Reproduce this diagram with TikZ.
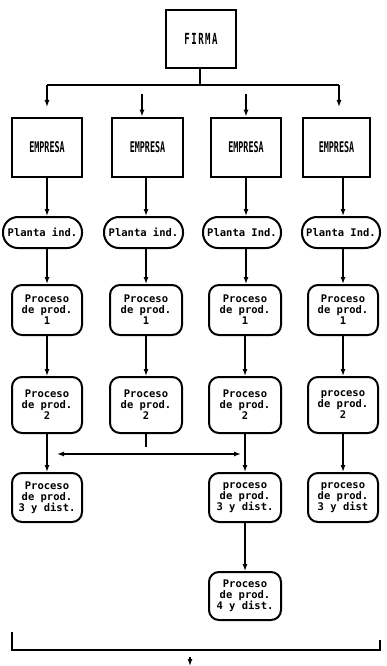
\documentclass[tikz,border=0pt]{standalone}
\usepackage{fontspec}
\usepackage{graphicx}
\newfontfamily\dotfont{DejaVu Sans Mono}
\usetikzlibrary{arrows.meta}
\newcommand{\capsT}[1]{\scalebox{1}[1.75]{\fontsize{8.4}{10}\selectfont #1}}
\begin{document}
\begin{tikzpicture}[x=1pt,y=-1pt,
  sqbox/.style={draw, line width=2.6pt, minimum height=59pt, inner sep=0pt, font=\dotfont\bfseries},
  plant/.style={draw, line width=2pt, rounded corners=15pt, minimum height=31pt, inner sep=0pt, font={\dotfont\bfseries\fontsize{10.5}{11}\selectfont}},
  proc/.style={draw, line width=2pt, rounded corners=10pt, inner sep=0pt, align=center, font={\dotfont\bfseries\fontsize{10.5}{11}\selectfont}},
  arr/.style={line width=1.3pt, -{Latex[length=7pt,width=5pt]}},
  dbl/.style={line width=1.3pt, {Latex[length=7pt,width=5pt]}-{Latex[length=7pt,width=5pt]}},
  ln/.style={line width=1.3pt}]
\useasboundingbox (0,0) rectangle (386,666);

% top
\node[sqbox, minimum width=70pt, minimum height=58pt] (firma) at (201,39) {\scalebox{1}[1.7]{\fontsize{9}{10}\selectfont F\,I\,R\,M\,A}};

\node[sqbox, minimum width=70pt] (e1) at (47,147.5) {\capsT{EMPRESA}};
\node[sqbox, minimum width=71pt] (e2) at (147.5,147.5) {\capsT{EMPRESA}};
\node[sqbox, minimum width=70pt] (e3) at (246,147.5) {\capsT{EMPRESA}};
\node[sqbox, minimum width=67pt] (e4) at (336.5,147.5) {\capsT{EMPRESA}};

\node[plant, minimum width=79pt] (pl1) at (42.5,232.5) {Planta ind.};
\node[plant, minimum width=79pt] (pl2) at (143.5,232.5) {Planta ind.};
\node[plant, minimum width=78pt] (pl3) at (242,232.5) {Planta Ind.};
\node[plant, minimum width=78pt] (pl4) at (341,232.5) {Planta Ind.};

% process 1
\node[proc, minimum width=70pt, minimum height=50pt] (p11) at (47,310) {Proceso\\de prod.\\1};
\node[proc, minimum width=72pt, minimum height=50pt] (p12) at (146,310) {Proceso\\de prod.\\1};
\node[proc, minimum width=72pt, minimum height=50pt] (p13) at (245,310) {Proceso\\de prod.\\1};
\node[proc, minimum width=70pt, minimum height=50pt] (p14) at (343,310) {Proceso\\de prod.\\1};

% process 2
\node[proc, minimum width=70pt, minimum height=56pt] (p21) at (47,405) {Proceso\\de prod.\\2};
\node[proc, minimum width=72pt, minimum height=56pt] (p22) at (146,405) {Proceso\\de prod.\\2};
\node[proc, minimum width=72pt, minimum height=56pt] (p23) at (245,405) {Proceso\\de prod.\\2};
\node[proc, minimum width=70pt, minimum height=56pt] (p24) at (343,405) {proceso\\de prod.\\2};

% process 3
\node[proc, minimum width=70pt, minimum height=49pt] (p31) at (47,497.5) {Proceso\\de prod.\\3 y dist.};
\node[proc, minimum width=72pt, minimum height=49pt] (p33) at (245,497.5) {proceso\\de prod.\\3 y dist.};
\node[proc, minimum width=70pt, minimum height=49pt] (p34) at (343,497.5) {proceso\\de prod.\\3 y dist};

% process 4
\node[proc, minimum width=72pt, minimum height=48pt] (p43) at (245,596) {Proceso\\de prod.\\4 y dist.};

% distribution from FIRMA
\coordinate (bar) at (200,85);
\coordinate (bl) at (47,85);
\coordinate (br) at (339,85);
\coordinate (blt) at (47,107);
\coordinate (brt) at (339,107);
\coordinate (m2) at (142,94);
\coordinate (m3) at (246,94);
\draw[ln] (firma.south -| bar) -- (bar);
\draw[ln] (bl) -- (br);
\draw[arr] (bl) -- (blt);
\draw[arr] (br) -- (brt);
\draw[arr] (m2) -- (m2 |- e2.north);
\draw[arr] (m3) -- (m3 |- e3.north);

% column 1
\draw[arr] (e1.south -| p11) -- (pl1.north -| p11);
\draw[arr] (pl1.south -| p11) -- (p11.north);
\draw[arr] (p11.south) -- (p21.north);
\draw[arr] (p21.south) -- (p31.north);
% column 2
\draw[arr] (e2.south -| p12) -- (pl2.north -| p12);
\draw[arr] (pl2.south -| p12) -- (p12.north);
\draw[arr] (p12.south) -- (p22.north);
\coordinate (stub) at (146,447);
\draw[ln] (p22.south) -- (stub);
% column 3
\draw[arr] (e3.south) -- (pl3.north -| e3);
\draw[arr] (pl3.south -| e3) -- (p13.north -| e3);
\draw[arr] (p13.south) -- (p23.north);
\draw[arr] (p23.south) -- (p33.north);
\draw[arr] (p33.south) -- (p43.north);
% column 4
\draw[arr] (e4.south -| p14) -- (pl4.north -| p14);
\draw[arr] (pl4.south -| p14) -- (p14.north);
\draw[arr] (p14.south) -- (p24.north);
\draw[arr] (p24.south) -- (p34.north);

% horizontal double arrow
\coordinate (dl) at (57,454);
\coordinate (dr) at (241,454);
\draw[dbl] (dl) -- (dr);

% bottom bracket
\coordinate (k1) at (12,632);
\coordinate (k2) at (12,650);
\coordinate (k3) at (380,650);
\coordinate (k4) at (380,640);
\draw[ln] (k1) -- (k2) -- (k3) -- (k4);
\coordinate (ba1) at (190,657);
\coordinate (ba2) at (190,666);
\draw[arr] (ba1) -- (ba2);
\end{tikzpicture}
\end{document}
